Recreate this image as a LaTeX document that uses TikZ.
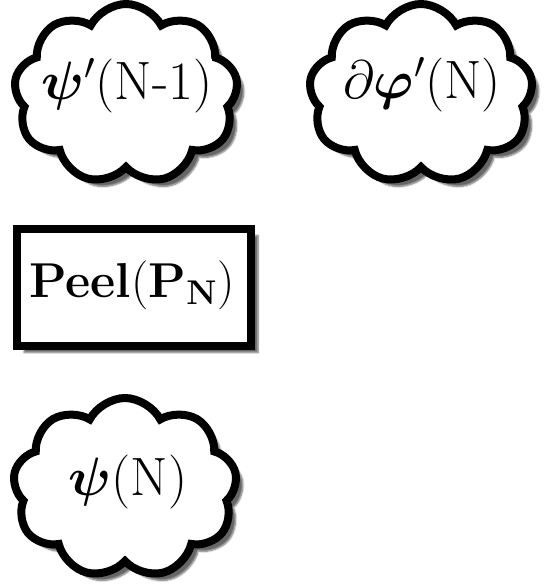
\RequirePackage{fix-cm}
\documentclass[tikz,border=0pt]{standalone}
\usepackage{amsmath,bm}
\usetikzlibrary{shapes.symbols,shadows.blur}
\tikzset{
  cloudbox/.style={cloud, cloud puffs=9, cloud puff arc=125, aspect=1.25,
    minimum width=224pt, minimum height=180pt, draw=black, line width=8pt, fill=white,
    blur shadow={shadow xshift=7pt, shadow yshift=-7pt, shadow blur steps=6, shadow opacity=60}},
  rectbox/.style={rectangle, draw=black, line width=8pt, fill=white,
    minimum width=234pt, minimum height=117pt,
    blur shadow={shadow xshift=7pt, shadow yshift=-7pt, shadow blur steps=6, shadow opacity=60}},
  cloudtext/.style={fill=white, inner sep=0pt, font=\fontsize{54}{60}\selectfont},
  recttext/.style={inner sep=0pt, font=\fontsize{49}{56}\selectfont}
}
\begin{document}
\begin{tikzpicture}[x=1pt,y=-1pt]
\useasboundingbox (0,0) rectangle (544,588);
\node[cloudbox] (c1) at (126,94) {};
\node[cloudtext] (t1) at (127,86) {$\bm{\psi}'(\text{N-1})$};
\node[cloudbox] (c2) at (421,94) {};
\node[cloudtext] (t2) at (422,85) {$\partial\bm{\varphi}'(\mathrm{N})$};
\node[rectbox] (r) at (134,287) {};
\node[recttext] (tr) at (132,285) {$\mathbf{Peel}(\mathbf{P_N})$};
\node[cloudbox] (c3) at (125,488) {};
\node[cloudtext] (t3) at (128,482) {$\bm{\psi}(\mathrm{N})$};
\end{tikzpicture}
\end{document}
